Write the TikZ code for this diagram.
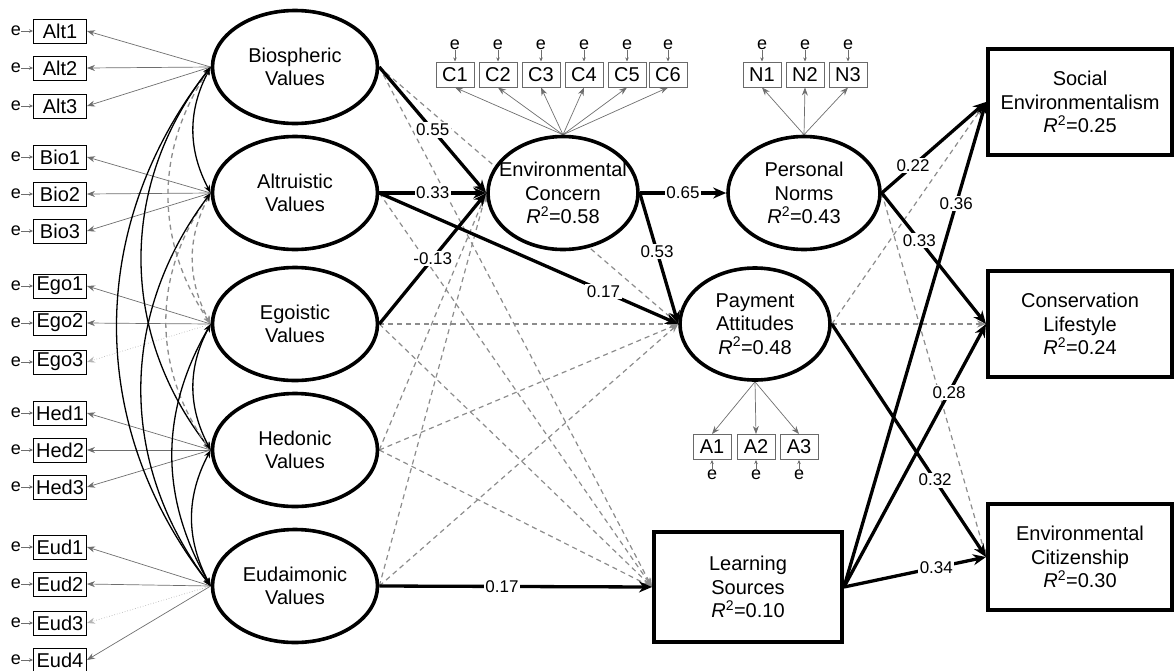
\documentclass[tikz,border=0pt]{standalone}
\usepackage{fontspec}
\setmainfont{Liberation Sans}
\usetikzlibrary{arrows.meta,positioning,shapes.geometric,backgrounds}
\definecolor{nsgray}{HTML}{8C8C8C}
\definecolor{ldgray}{HTML}{6E6E6E}
\definecolor{ldweak}{HTML}{B4B4B4}
\definecolor{obsline}{HTML}{6A6A6A}
\newcommand{\rsq}[1]{\textit{R}\textsuperscript{2}=#1}

\begin{document}
\begin{tikzpicture}[
  x=1pt, y=1pt, >=Stealth,
  font=\fontsize{20}{23.5}\selectfont,
  latent/.style={ellipse, draw, line width=3.6pt, fill=white, minimum width=165pt, minimum height=113pt, inner sep=0pt},
  ltext/.style={align=center, inner sep=0pt},
  outcome/.style={draw, line width=4pt, fill=white, minimum width=184pt, minimum height=106pt, align=center},
  obs/.style={draw, line width=0.9pt, fill=white, minimum width=53pt, minimum height=24pt, inner sep=1pt},
  obsg/.style={draw=obsline, line width=1pt, fill=white, minimum width=38pt, minimum height=25pt, inner sep=1pt},
  err/.style={inner sep=0pt, font=\fontsize{18}{18}\selectfont},
  errarr/.style={->, >={Stealth[length=4pt,width=3.5pt]}, draw=ldgray, line width=0.6pt},
  load/.style={->, >={Stealth[length=8pt,width=6pt]}, draw=ldgray, line width=0.7pt},
  loadweak/.style={load, draw=ldweak, dotted},
  cov/.style={<->, >={Stealth[length=8pt,width=6pt]}, line width=1.3pt},
  covns/.style={cov, draw=nsgray, dash pattern=on 5pt off 4pt},
  sigpath/.style={->, >={Stealth[length=13pt,width=11pt]}, line width=3.3pt},
  nspath/.style={->, >={Stealth[length=9pt,width=7pt]}, draw=nsgray, line width=1.2pt, dash pattern=on 5pt off 4pt},
  coef/.style={fill=white, inner sep=1.5pt, font=\fontsize{17}{17}\selectfont},
]
\useasboundingbox (0,0) rectangle (1176,-670);
% value orientations
\node[latent, label={[ltext]center:Biospheric\\Values}] (bio) at (295,-67) {};
\node[latent, label={[ltext]center:Altruistic\\Values}] (alt) at (295,-193) {};
\node[latent, label={[ltext]center:Egoistic\\Values}] (ego) at (295,-324) {};
\node[latent, label={[ltext]center:Hedonic\\Values}] (hed) at (295,-450) {};
\node[latent, label={[ltext]center:Eudaimonic\\Values}] (eud) at (295,-586) {};
% mediators
\node[latent, minimum width=150pt, label={[ltext]center:Environmental\\Concern\\\rsq{0.58}}] (ec) at (563,-193) {};
\node[latent, minimum width=152pt, label={[ltext]center:Personal\\Norms\\\rsq{0.43}}] (pn) at (804,-193) {};
\node[latent, minimum width=150pt, minimum height=112pt, label={[ltext]center:Payment\\Attitudes\\\rsq{0.48}}] (pa) at (755,-324) {};
\node[outcome, minimum width=188pt, minimum height=110pt] (ls) at (748,-587) {Learning\\Sources\\\rsq{0.10}};
% outcomes
\node[outcome] (se) at (1080,-102) {Social\\Environmentalism\\\rsq{0.25}};
\node[outcome] (cl) at (1080,-324) {Conservation\\Lifestyle\\\rsq{0.24}};
\node[outcome] (ecit) at (1080,-557) {Environmental\\Citizenship\\\rsq{0.30}};

% indicators on the left
\foreach \n/\y in {Alt1/31,Alt2/68,Alt3/106,Bio1/157,Bio2/194,Bio3/231,Ego1/286,Ego2/323,Ego3/362,Hed1/413,Hed2/450,Hed3/487,Eud1/547,Eud2/584,Eud3/623,Eud4/660}{
  \node[obs] (\n) at (60,-\y) {\n};
  \node[err, left=12pt of \n] (e\n) {e};
  \draw[errarr] (e\n) -- (\n);
}
% indicators on top and below
\foreach \n/\x in {C1/455,C2/498,C3/541,C4/584,C5/627,C6/668,N1/762,N2/805,N3/848}{
  \node[obsg] (\n) at (\x,-74.5) {\n};
  \node[err, above=12pt of \n] (e\n) {e};
  \draw[errarr] (e\n) -- (\n);
}
\foreach \n/\x in {A1/712,A2/756,A3/799}{
  \node[obsg] (\n) at (\x,-447) {\n};
  \node[err, below=10pt of \n] (e\n) {e};
  \draw[errarr] (e\n) -- (\n);
}

\begin{pgfonlayer}{background}
% loadings
\foreach \f/\i in {bio/Alt1,bio/Alt2,bio/Alt3,alt/Bio1,alt/Bio2,alt/Bio3,ego/Ego1,ego/Ego2,hed/Hed1,hed/Hed2,hed/Hed3,eud/Eud1,eud/Eud2,eud/Eud4}
  \draw[load] (\f.west) -- (\i.east);
\draw[loadweak] (ego.west) -- (Ego3.east);
\draw[loadweak] (eud.west) -- (Eud3.east);
\foreach \i in {C1,C2,C3,C4,C5,C6}
  \draw[load] (ec.north) -- (\i.south);
\foreach \i in {N1,N2,N3}
  \draw[load] (pn.north) -- (\i.south);
\foreach \i in {A1,A2,A3}
  \draw[load] (pa.south) -- (\i.north);
% covariances
\draw[cov] (bio.west) to[bend right=28] (alt.west);
\draw[covns] (bio.west) to[bend right=34] (ego.west);
\draw[cov] (bio.west) to[bend right=38] (hed.west);
\draw[cov] (bio.west) to[bend right=38] (eud.west);
\draw[covns] (alt.west) to[bend right=28] (ego.west);
\draw[covns] (alt.west) to[bend right=36] (hed.west);
\draw[cov] (alt.west) to[bend right=37] (eud.west);
\draw[cov] (ego.west) to[bend right=28] (hed.west);
\draw[cov] (ego.west) to[bend right=30] (eud.west);
\draw[cov] (hed.west) to[bend right=28] (eud.west);
% non-significant paths
\draw[nspath] (bio.east) -- (pa.west);
\draw[nspath] (bio.east) -- (ls.west);
\draw[nspath] (alt.east) -- (ls.west);
\draw[nspath] (ego.east) -- (pa.west);
\draw[nspath] (ego.east) -- (ls.west);
\draw[nspath] (hed.east) -- (ec.west);
\draw[nspath] (hed.east) -- (pa.west);
\draw[nspath] (hed.east) -- (ls.west);
\draw[nspath] (eud.east) -- (ec.west);
\draw[nspath] (eud.east) -- (pa.west);
\draw[nspath] (pn.east) -- (ecit.west);
\draw[nspath] (pa.east) -- (se.west);
\draw[nspath] (pa.east) -- (cl.west);
% significant paths
\draw[sigpath] (bio.east) -- node[coef]{0.55} (ec.west);
\draw[sigpath] (alt.east) -- node[coef]{0.33} (ec.west);
\draw[sigpath] (ego.east) -- node[coef]{-0.13} (ec.west);
\draw[sigpath] (alt.east) -- node[coef, pos=0.75]{0.17} (pa.west);
\draw[sigpath] (eud.east) -- node[coef, pos=0.45]{0.17} (ls.west);
\draw[sigpath] (ec.east) -- node[coef]{0.65} (pn.west);
\draw[sigpath] (ec.east) -- node[coef, pos=0.45]{0.53} (pa.west);
\draw[sigpath] (pn.east) -- node[coef, pos=0.3]{0.22} (se.west);
\draw[sigpath] (pn.east) -- node[coef, pos=0.36]{0.33} (cl.west);
\draw[sigpath] (pa.east) -- node[coef, pos=0.67]{0.32} (ecit.west);
\draw[sigpath] (ls.east) -- node[coef, pos=0.79]{0.36} (se.west);
\draw[sigpath] (ls.east) -- node[coef, pos=0.74]{0.28} (cl.west);
\draw[sigpath] (ls.east) -- node[coef, pos=0.65]{0.34} (ecit.west);
\end{pgfonlayer}
\end{tikzpicture}
\end{document}
